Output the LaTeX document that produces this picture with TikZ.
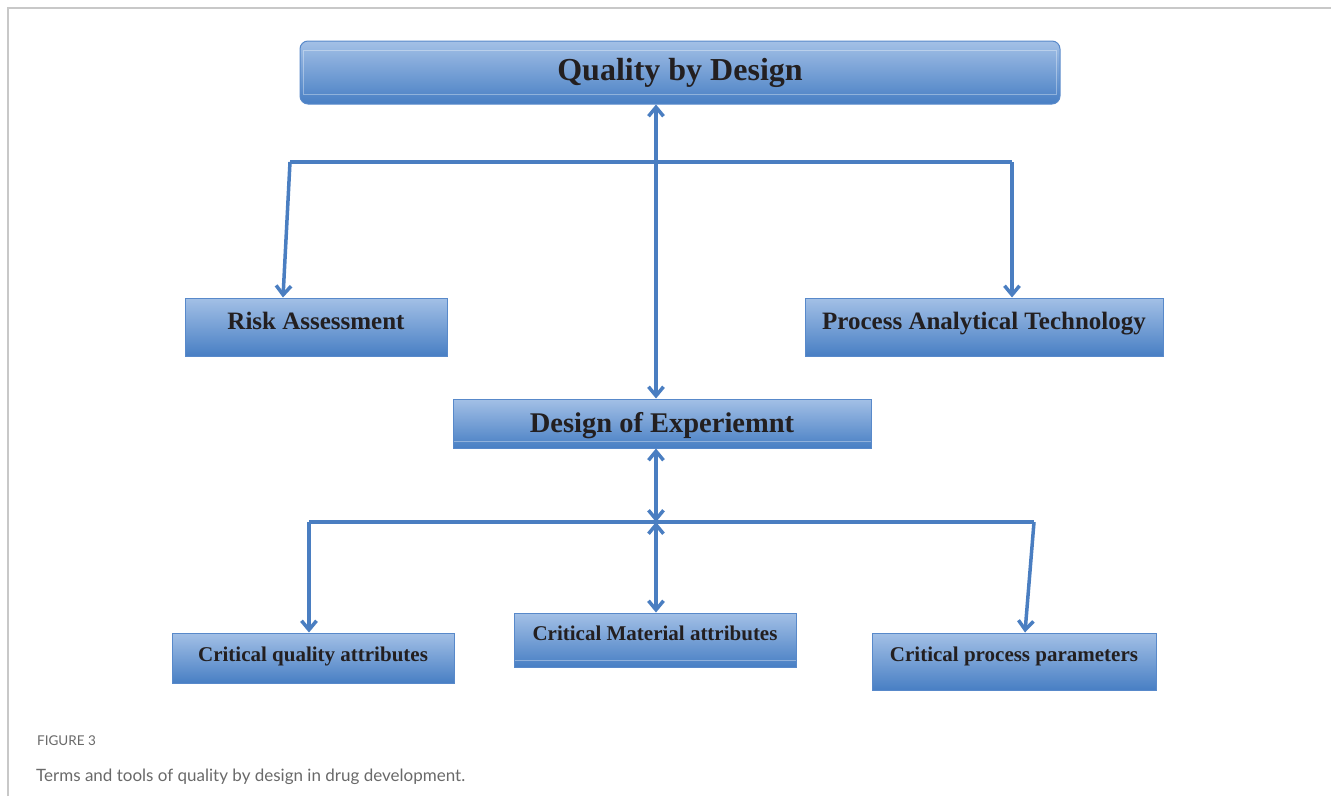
\documentclass[tikz,border=0pt]{standalone}
\usepackage{fontspec}
\setmainfont{Liberation Serif}
\newfontfamily\capfont{Lato}
\usetikzlibrary{arrows.meta}

\definecolor{boxtop}{RGB}{163,192,230}
\definecolor{boxbot}{RGB}{72,127,196}
\definecolor{boxedge}{RGB}{88,137,202}
\definecolor{linkblue}{RGB}{74,126,193}
\definecolor{inkdark}{RGB}{35,31,32}
\definecolor{framegray}{RGB}{200,200,200}
\definecolor{capgray}{RGB}{105,105,105}

\tikzset{
  box/.style={draw=boxedge, line width=1pt, top color=boxtop, bottom color=boxbot,
    inner sep=0pt, text=inkdark, font=\bfseries, text depth=6pt},
  sheen/.style={draw=white, draw opacity=0.35, line width=0.8pt},
  link/.style={draw=linkblue, line width=3.5pt, line join=miter},
  tip/.style={-{Straight Barb[length=9pt,width=15pt]}},
  tips/.style={{Straight Barb[length=9pt,width=15pt]}-{Straight Barb[length=9pt,width=15pt]}}
}

\begin{document}
\begin{tikzpicture}[x=1pt,y=-1pt]
  \useasboundingbox (0,0) rectangle (1331,796);
  % page frame
  \draw[framegray, line width=2pt] (8,796) -- (8,8) -- (1331,8);

  % boxes
  \node[box, rounded corners=8pt, minimum width=760pt, minimum height=63pt, text height=21pt,
    font=\fontsize{32}{38}\selectfont\bfseries] (qbd) at (680,72.5) {Quality by Design};
  \node[box, minimum width=262pt, minimum height=58pt, text height=10.6pt,
    font=\fontsize{25}{30}\selectfont\bfseries] (ra) at (316,327) {Risk Assessment};
  \node[box, minimum width=358pt, minimum height=58pt, text height=10.6pt,
    font=\fontsize{25}{30}\selectfont\bfseries] (pat) at (984,327) {Process Analytical Technology};
  \node[box, minimum width=418pt, minimum height=49pt, text height=24.4pt,
    font=\fontsize{28.5}{34}\selectfont\bfseries] (doe) at (662,423.5) {Design of Experiemnt};
  \node[box, minimum width=282pt, minimum height=50pt, text height=13.4pt,
    font=\fontsize{21}{25}\selectfont\bfseries] (cqa) at (313,658) {Critical quality attributes};
  \node[box, minimum width=282pt, minimum height=54pt, text height=6pt,
    font=\fontsize{21}{25}\selectfont\bfseries] (cma) at (655,640) {Critical Material attributes};
  \node[box, minimum width=284pt, minimum height=57pt, text height=6.4pt,
    font=\fontsize{21}{25}\selectfont\bfseries] (cpp) at (1014,661.5) {Critical process parameters};

  % faint highlights inside the boxes
  \draw[sheen] ([shift={(4,10)}]qbd.north west) rectangle ([shift={(-4,-10)}]qbd.south east);
  \draw[sheen] ([shift={(1,-7)}]doe.south west) -- ([shift={(-1,-7)}]doe.south east);
  \draw[sheen] ([shift={(1,-7)}]cma.south west) -- ([shift={(-1,-7)}]cma.south east);

  % branch points
  \coordinate (spine) at (656,0);
  \coordinate (barL) at (290,162);
  \coordinate (barR) at (1012,162);
  \coordinate (hub) at (656,522);
  \coordinate (lowL) at (309,522);
  \coordinate (lowR) at (1034,522);

  % connectors
  \draw[link, tips] (qbd.south -| spine) -- (doe.north -| spine);
  \draw[link] (barL) -- (barR);
  \draw[link, tip] (barL) -- ([xshift=-33pt]ra.north);
  \draw[link, tip] (barR) -- (pat.north -| barR);
  \draw[link, tips] (doe.south -| spine) -- (hub);
  \draw[link, tips] (hub) -- (cma.north -| spine);
  \draw[link] (lowL) -- (lowR);
  \draw[link, tip] (lowL) -- (cqa.north -| lowL);
  \draw[link, tip] (lowR) -- ([xshift=11pt]cpp.north);

  % caption
  \node[anchor=base west, inner sep=0pt, text=capgray, font=\capfont\fontsize{13.5}{16}\selectfont]
    (fignum) at (37,745) {FIGURE 3};
  \node[anchor=base west, inner sep=0pt, text=capgray, font=\capfont\fontsize{17}{20}\selectfont]
    (figcap) at (36,781) {Terms and tools of quality by design in drug development.};
\end{tikzpicture}
\end{document}
